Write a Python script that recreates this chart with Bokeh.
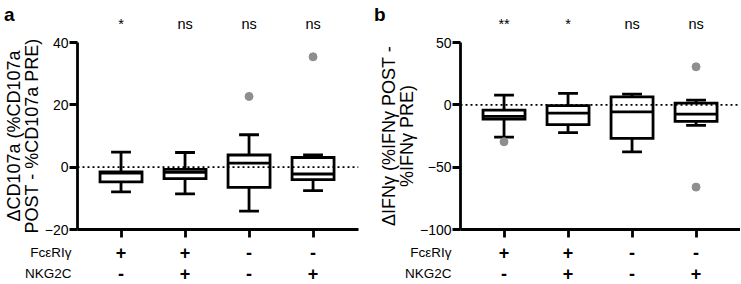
import numpy as np
from bokeh.plotting import figure
from bokeh.layouts import row, column
from bokeh.models import Span, FixedTicker
from bokeh.core.properties import value
from bokeh.embed import file_html
from bokeh.resources import INLINE

# ---- data ----
cats = [1, 2, 3, 4]
fce_signs = ["+", "+", "-", "-"]
nkg_signs = ["-", "+", "-", "+"]
row_names = ["FcεRIγ", "NKG2C"]

# panel a: delta CD107a
a_hi = [4.8, 4.7, 10.4, 3.9]
a_q3 = [-1.5, -0.7, 3.9, 3.1]
a_med = [-1.9, -1.7, 1.3, -2.2]
a_q1 = [-4.7, -3.7, -6.5, -4.0]
a_lo = [-7.9, -8.6, -14.1, -7.5]
a_out_x = [3, 4]
a_out_y = [22.7, 35.4]
a_sig = ["*", "ns", "ns", "ns"]
a_yticks = [-20, 0, 20, 40]

# panel b: delta IFNg
b_hi = [7.8, 9.2, 8.6, 3.8]
b_q3 = [-4.2, -0.6, 6.4, 1.4]
b_med = [-9.3, -6.7, -5.7, -7.5]
b_q1 = [-11.4, -15.8, -26.9, -13.2]
b_lo = [-25.9, -22.3, -37.7, -16.4]
b_out_x = [1, 4, 4]
b_out_y = [-29.6, 30.5, -66.0]
b_sig = ["**", "*", "ns", "ns"]
b_yticks = [-100, -50, 0, 50]

FONT = "Liberation Sans"
BOX_W = 0.656
CAP_W = 0.31
LW = 2.8
X0, X1 = 0.32, 4.71
FRAME_W, FRAME_H = 281, 187
TOP_H, MAIN_TOP, MAIN_BOT, STRIP_H = 33, 9, 10, 44
ROW_Y = [31, 10]     # bottom strip rows (px from strip bottom)
SIG_Y = 9.3          # significance row (px from top strip bottom)
LETTER_Y = 19        # panel letter (px from top strip bottom)


def strip(p, height, left, right):
    s = figure(x_range=p.x_range, y_range=(0, height),
               frame_width=FRAME_W, frame_height=height,
               min_border_left=left, min_border_right=right,
               min_border_top=0, min_border_bottom=0,
               x_axis_location=None,
               output_backend="svg", toolbar_location=None)
    s.outline_line_color = None
    s.grid.visible = False
    sy = s.yaxis[0]
    sy.axis_line_color = None
    sy.major_tick_line_color = None
    sy.minor_tick_line_color = None
    sy.major_tick_out = 0
    sy.major_tick_in = 0
    return s


def panel(letter, ylabel, yrange, yticks, hi, q3, med, q1, lo, ox, oy, sig,
          left, right, name_standoff, letter_right):
    p = figure(x_range=(X0, X1), y_range=yrange,
               frame_width=FRAME_W, frame_height=FRAME_H,
               min_border_left=left, min_border_right=right,
               min_border_top=MAIN_TOP, min_border_bottom=MAIN_BOT,
               output_backend="svg", toolbar_location=None)
    p.outline_line_color = None
    p.grid.visible = False

    x = np.array(cats, dtype=float)
    p.segment(x0=x, y0=np.array(q3), x1=x, y1=np.array(hi),
              line_color="black", line_width=LW)
    p.segment(x0=x, y0=np.array(q1), x1=x, y1=np.array(lo),
              line_color="black", line_width=LW)
    p.segment(x0=x - CAP_W / 2, y0=np.array(hi), x1=x + CAP_W / 2, y1=np.array(hi),
              line_color="black", line_width=LW)
    p.segment(x0=x - CAP_W / 2, y0=np.array(lo), x1=x + CAP_W / 2, y1=np.array(lo),
              line_color="black", line_width=LW)
    p.vbar(x=x, width=BOX_W, top=q3, bottom=q1, fill_color="white",
           line_color="black", line_width=LW, line_join="miter")
    p.segment(x0=x - BOX_W / 2, y0=np.array(med), x1=x + BOX_W / 2, y1=np.array(med),
              line_color="black", line_width=LW)
    p.scatter(x=ox, y=oy, size=8, marker="circle", fill_color="#8e8e8e",
              line_color="#8e8e8e")
    p.add_layout(Span(location=0, dimension="width", line_color="black",
                      line_width=1.6, line_dash="2 3"))

    ax = p.yaxis[0]
    ax.ticker = FixedTicker(ticks=yticks)
    ax.minor_tick_line_color = None
    ax.axis_line_width = LW
    ax.major_tick_line_width = LW
    ax.major_tick_out = 8
    ax.major_tick_in = 0
    ax.major_label_standoff = 1
    ax.major_label_text_font = FONT
    ax.major_label_text_font_size = "14px"
    ax.major_label_text_color = "black"
    ax.axis_label = ylabel
    ax.axis_label_text_font = FONT
    ax.axis_label_text_font_size = "18px"
    ax.axis_label_text_font_style = "normal"
    ax.axis_label_text_color = "black"
    ax.axis_label_standoff = 0
    ax.axis_label_text_line_height = 0.9

    bx = p.xaxis[0]
    bx.ticker = FixedTicker(ticks=cats)
    bx.minor_tick_line_color = None
    bx.axis_line_width = LW
    bx.major_tick_line_width = LW
    bx.major_tick_out = 8
    bx.major_tick_in = 0
    bx.major_label_standoff = 0
    bx.major_label_overrides = {c: "" for c in cats}

    # top strip: significance labels and the panel letter
    t = strip(p, TOP_H, left, right)
    t.text(x=cats, y=[SIG_Y] * 4, text=sig, text_font=value(FONT),
           text_font_size="14.5px", text_color="black", text_align="center",
           text_baseline="middle")
    ty = t.yaxis[0]
    ty.ticker = FixedTicker(ticks=[LETTER_Y])
    ty.major_label_overrides = {LETTER_Y: letter}
    ty.major_label_standoff = left - letter_right
    ty.major_label_text_font = FONT
    ty.major_label_text_font_size = "19px"
    ty.major_label_text_font_style = "bold"
    ty.major_label_text_color = "black"

    # bottom strip: row names on its y axis, +/- signs as text
    s = strip(p, STRIP_H, left, right)
    sy = s.yaxis[0]
    sy.ticker = FixedTicker(ticks=ROW_Y)
    sy.major_label_overrides = {yv: n for yv, n in zip(ROW_Y, row_names)}
    sy.major_label_standoff = name_standoff
    sy.major_label_text_font = FONT
    sy.major_label_text_font_size = "13.5px"
    sy.major_label_text_color = "black"
    for yv, signs in zip(ROW_Y, [fce_signs, nkg_signs]):
        s.text(x=cats, y=[yv] * 4, text=signs, text_font=value(FONT),
               text_font_size="18px", text_font_style="bold",
               text_color="black", text_align="center",
               text_baseline="middle")
    return column(t, p, s, spacing=0)


pa = panel("a", "ΔCD107a (%CD107a\nPOST - %CD107a PRE)", (-20, 40), a_yticks,
           a_hi, a_q3, a_med, a_q1, a_lo, a_out_x, a_out_y, a_sig, 77, 12, 6, 14)
pb = panel("b", "ΔIFNγ (%IFNγ POST -\n%IFNγ PRE)", (-100, 50), b_yticks,
           b_hi, b_q3, b_med, b_q1, b_lo, b_out_x, b_out_y, b_sig, 89, 0, 9, 14)

layout = row(pa, pb, spacing=0)
open("out.html", "w").write(file_html(layout, INLINE))
